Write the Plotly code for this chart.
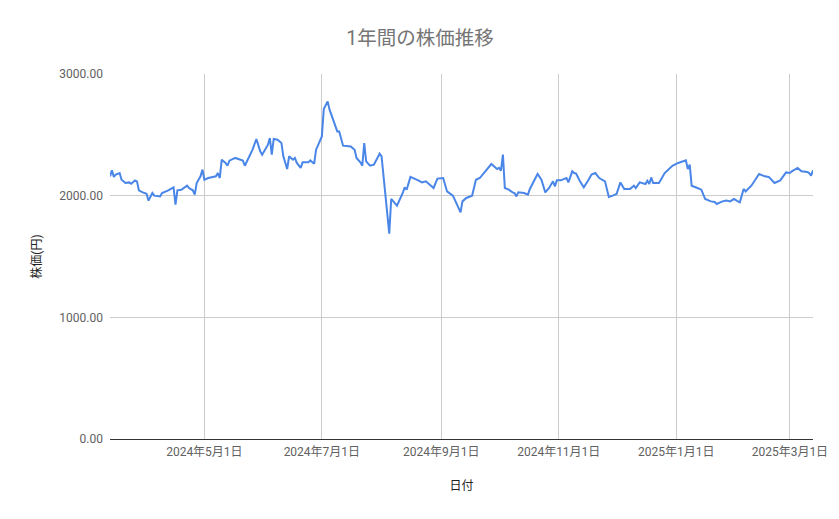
import plotly.graph_objects as go

# 日付
dates = [
	'2024-03-13', '2024-03-14', '2024-03-15', '2024-03-16', '2024-03-18', '2024-03-19', '2024-03-21', '2024-03-23',
	'2024-03-24', '2024-03-26', '2024-03-27', '2024-03-28', '2024-03-30', '2024-04-01', '2024-04-02', '2024-04-04',
	'2024-04-05', '2024-04-08', '2024-04-09', '2024-04-12', '2024-04-15', '2024-04-16', '2024-04-17', '2024-04-19',
	'2024-04-22', '2024-04-23', '2024-04-25', '2024-04-26', '2024-04-27', '2024-04-29', '2024-04-30', '2024-05-01',
	'2024-05-03', '2024-05-07', '2024-05-08', '2024-05-09', '2024-05-10', '2024-05-12', '2024-05-13', '2024-05-14',
	'2024-05-17', '2024-05-19', '2024-05-21', '2024-05-22', '2024-05-24', '2024-05-26', '2024-05-28', '2024-05-30',
	'2024-05-31', '2024-06-03', '2024-06-04', '2024-06-05', '2024-06-06', '2024-06-08', '2024-06-10', '2024-06-11',
	'2024-06-13', '2024-06-14', '2024-06-16', '2024-06-17', '2024-06-18', '2024-06-20', '2024-06-21', '2024-06-24',
	'2024-06-25', '2024-06-27', '2024-06-28', '2024-07-01', '2024-07-02', '2024-07-04', '2024-07-05', '2024-07-09',
	'2024-07-10', '2024-07-12', '2024-07-16', '2024-07-18', '2024-07-19', '2024-07-21', '2024-07-22', '2024-07-23',
	'2024-07-24', '2024-07-26', '2024-07-28', '2024-07-31', '2024-08-01', '2024-08-05', '2024-08-06', '2024-08-09',
	'2024-08-12', '2024-08-13', '2024-08-14', '2024-08-16', '2024-08-20', '2024-08-22', '2024-08-24', '2024-08-26',
	'2024-08-28', '2024-08-30', '2024-09-02', '2024-09-04', '2024-09-07', '2024-09-08', '2024-09-11', '2024-09-12',
	'2024-09-14', '2024-09-17', '2024-09-18', '2024-09-19', '2024-09-21', '2024-09-24', '2024-09-27', '2024-09-30',
	'2024-10-01', '2024-10-02', '2024-10-03', '2024-10-04', '2024-10-06', '2024-10-08', '2024-10-09', '2024-10-10',
	'2024-10-11', '2024-10-14', '2024-10-16', '2024-10-17', '2024-10-19', '2024-10-21', '2024-10-23', '2024-10-25',
	'2024-10-27', '2024-10-29', '2024-10-30', '2024-10-31', '2024-11-02', '2024-11-05', '2024-11-06', '2024-11-08',
	'2024-11-09', '2024-11-10', '2024-11-12', '2024-11-14', '2024-11-16', '2024-11-18', '2024-11-20', '2024-11-22',
	'2024-11-25', '2024-11-27', '2024-11-29', '2024-12-01', '2024-12-03', '2024-12-05', '2024-12-08', '2024-12-10',
	'2024-12-11', '2024-12-13', '2024-12-16', '2024-12-17', '2024-12-18', '2024-12-19', '2024-12-20', '2024-12-23',
	'2024-12-24', '2024-12-26', '2024-12-30', '2025-01-02', '2025-01-06', '2025-01-07', '2025-01-08', '2025-01-09',
	'2025-01-12', '2025-01-14', '2025-01-16', '2025-01-19', '2025-01-21', '2025-01-22', '2025-01-25', '2025-01-27',
	'2025-01-29', '2025-01-31', '2025-02-02', '2025-02-03', '2025-02-05', '2025-02-06', '2025-02-09', '2025-02-13',
	'2025-02-16', '2025-02-18', '2025-02-21', '2025-02-24', '2025-02-27', '2025-03-01', '2025-03-02', '2025-03-05',
	'2025-03-07', '2025-03-10', '2025-03-11', '2025-03-12', '2025-03-13',
]

# 株価 (円)
prices = [
	2159, 2208, 2154, 2173, 2186, 2131, 2104, 2109,
	2098, 2126, 2118, 2044, 2027, 2016, 1959, 2022,
	2000, 1994, 2022, 2041, 2068, 1926, 2044, 2049,
	2082, 2063, 2044, 2008, 2104, 2159, 2214, 2131,
	2145, 2159, 2186, 2145, 2296, 2269, 2246, 2288,
	2310, 2301, 2288, 2246, 2310, 2378, 2466, 2364,
	2337, 2419, 2474, 2337, 2466, 2460, 2433, 2323,
	2219, 2323, 2296, 2310, 2269, 2228, 2274, 2274,
	2290, 2263, 2378, 2487, 2712, 2775, 2707, 2528,
	2528, 2411, 2405, 2378, 2310, 2274, 2246, 2433,
	2282, 2246, 2255, 2345, 2323, 1688, 1973, 1918,
	2022, 2068, 2049, 2154, 2126, 2109, 2118, 2090,
	2063, 2140, 2145, 2035, 2000, 1967, 1863, 1953,
	1981, 2000, 2063, 2131, 2145, 2200, 2260, 2219,
	2228, 2205, 2337, 2063, 2049, 2027, 2022, 1994,
	2027, 2022, 2008, 2055, 2118, 2178, 2131, 2027,
	2063, 2118, 2076, 2126, 2126, 2145, 2109, 2200,
	2186, 2181, 2118, 2068, 2118, 2173, 2186, 2145,
	2118, 1989, 2000, 2014, 2109, 2055, 2055, 2082,
	2063, 2109, 2096, 2123, 2096, 2150, 2104, 2104,
	2131, 2186, 2246, 2269, 2290, 2219, 2255, 2082,
	2063, 2049, 1973, 1953, 1948, 1932, 1953, 1961,
	1953, 1973, 1953, 1945, 2055, 2035, 2082, 2178,
	2159, 2154, 2104, 2126, 2191, 2186, 2200, 2228,
	2200, 2195, 2186, 2164, 2208,
]

x_tickvals = ['2024-05-01', '2024-07-01', '2024-09-01', '2024-11-01', '2025-01-01', '2025-03-01']
x_ticktext = ['2024年5月1日', '2024年7月1日', '2024年9月1日', '2024年11月1日', '2025年1月1日', '2025年3月1日']
y_tickvals = [0, 1000, 2000, 3000]

FONT = 'Roboto, "Noto Sans CJK JP", sans-serif'

fig = go.Figure()
fig.add_trace(go.Scatter(
	x = dates,
	y = prices,
	mode = 'lines',
	line = dict(color = '#4a86e8', width = 2),
	name = '株価',
))

# NOTE: the page body has an 8px margin, so the figure is made 8px smaller
fig.update_layout(
	width = 831,
	height = 511,
	margin = dict(l = 102, r = 26, t = 66, b = 80),
	paper_bgcolor = 'white',
	plot_bgcolor = 'white',
	showlegend = False,
	font = dict(family = FONT, size = 12, color = '#616161'),
	title = dict(
		text = '1年間の株価推移',
		x = 0.4958, xref = 'container', xanchor = 'center',
		y = 0.941, yref = 'container', yanchor = 'middle',
		font = dict(family = FONT, size = 19.5, color = '#757575'),
	),
	xaxis = dict(
		range = ['2024-03-13', '2025-03-13'],
		tickvals = x_tickvals,
		ticktext = x_ticktext,
		showgrid = True,
		gridcolor = '#cccccc',
		gridwidth = 1,
		showline = True,
		linecolor = '#333333',
		linewidth = 1,
		ticks = '',
		zeroline = False,
		ticklabelstandoff = 2,
		tickfont = dict(size = 12, color = '#616161'),
		title = dict(text = '日付', font = dict(size = 12, color = '#222222'), standoff = 23),
	),
	yaxis = dict(
		range = [0, 3000],
		tickvals = y_tickvals,
		tickformat = '.2f',
		showgrid = True,
		gridcolor = '#cccccc',
		gridwidth = 1,
		showline = False,
		zeroline = False,
		ticks = '',
		ticklabelstandoff = 6,
		tickfont = dict(size = 12, color = '#616161'),
		title = dict(text = '株価(円)', font = dict(size = 12, color = '#222222'), standoff = 15),
	),
)

fig.write_html('out.html')
